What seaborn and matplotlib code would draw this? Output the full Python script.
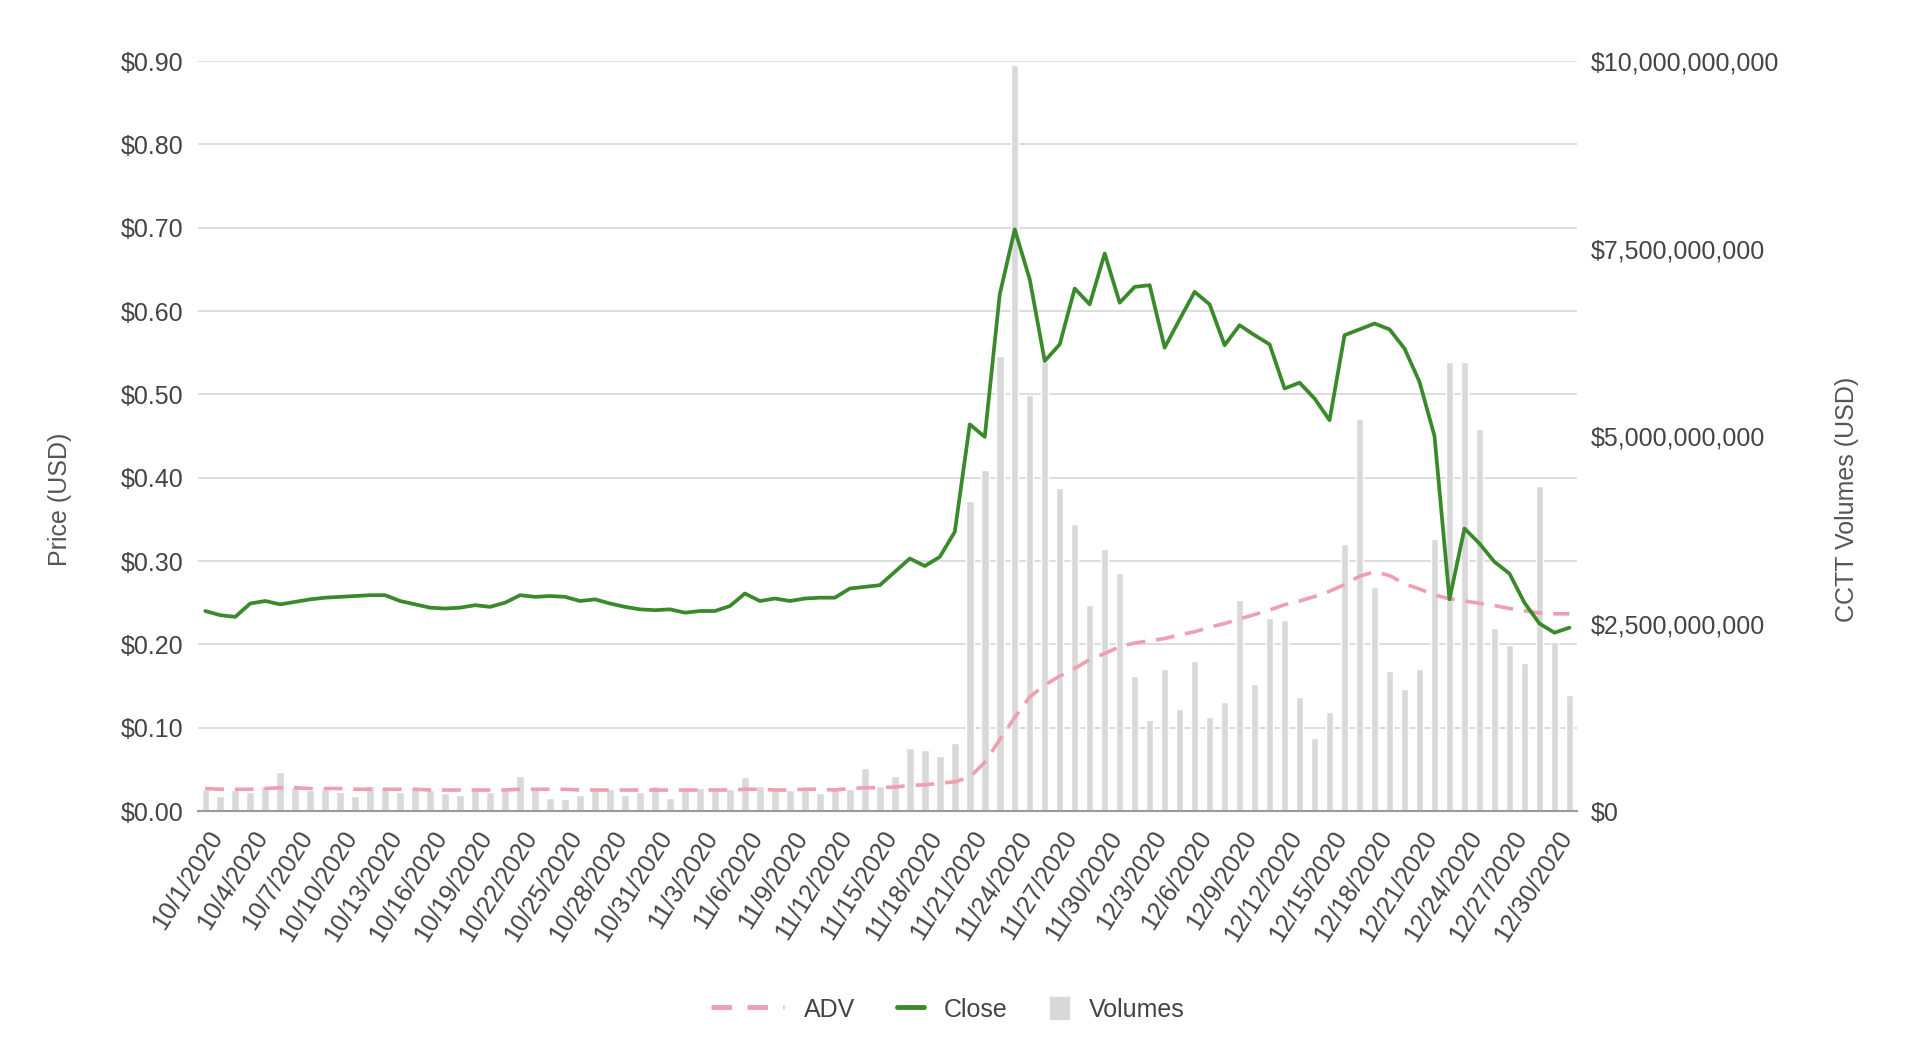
import numpy as np
import pandas as pd
import matplotlib
matplotlib.use("Agg")
import matplotlib.pyplot as plt
import seaborn as sns
from matplotlib.ticker import FixedLocator, FuncFormatter
from matplotlib.lines import Line2D
from matplotlib.patches import Patch
from matplotlib.transforms import ScaledTranslation

# Data, 10/1/2020 - 12/31/2020
dates = pd.date_range("2020-10-01", "2020-12-31", freq="D")

close = [
    0.240, 0.235, 0.233, 0.249, 0.252, 0.248, 0.251, 0.254, 0.256, 0.257,
    0.258, 0.259, 0.259, 0.252, 0.248, 0.244, 0.243, 0.244, 0.247, 0.245,
    0.250, 0.259, 0.257, 0.258, 0.257, 0.252, 0.254, 0.249, 0.245, 0.242,
    0.241, 0.242, 0.238, 0.240, 0.240, 0.246, 0.261, 0.252, 0.255, 0.252,
    0.255, 0.256, 0.256, 0.267, 0.269, 0.271, 0.287, 0.303, 0.294, 0.305,
    0.335, 0.464, 0.449, 0.620, 0.698, 0.638, 0.540, 0.560, 0.627, 0.608,
    0.669, 0.610, 0.629, 0.631, 0.556, 0.590, 0.623, 0.608, 0.559, 0.583,
    0.571, 0.560, 0.507, 0.514, 0.495, 0.469, 0.571, 0.578, 0.585, 0.578,
    0.555, 0.515, 0.450, 0.254, 0.339, 0.321, 0.299, 0.285, 0.250, 0.225,
    0.214, 0.220,
]

# billions of USD
volumes_bn = [
    0.30, 0.20, 0.28, 0.25, 0.33, 0.52, 0.32, 0.28, 0.30, 0.26,
    0.20, 0.33, 0.30, 0.25, 0.30, 0.28, 0.24, 0.22, 0.28, 0.25,
    0.29, 0.47, 0.29, 0.18, 0.16, 0.22, 0.29, 0.29, 0.22, 0.25,
    0.34, 0.18, 0.29, 0.31, 0.31, 0.29, 0.45, 0.34, 0.31, 0.28,
    0.31, 0.24, 0.29, 0.30, 0.58, 0.33, 0.47, 0.84, 0.81, 0.74,
    0.91, 4.14, 4.55, 6.07, 9.95, 5.55, 5.99, 4.31, 3.83, 2.75,
    3.50, 3.17, 1.80, 1.22, 1.90, 1.36, 2.00, 1.26, 1.46, 2.82,
    1.70, 2.58, 2.55, 1.52, 0.97, 1.32, 3.56, 5.23, 2.99, 1.87,
    1.63, 1.90, 3.63, 5.99, 5.99, 5.09, 2.44, 2.21, 1.97, 4.34,
    2.26, 1.55,
]

adv_bn = [
    0.30, 0.29, 0.29, 0.29, 0.30, 0.31, 0.31, 0.30, 0.30, 0.30,
    0.29, 0.29, 0.29, 0.29, 0.29, 0.28, 0.28, 0.28, 0.28, 0.28,
    0.28, 0.29, 0.29, 0.29, 0.29, 0.28, 0.28, 0.28, 0.28, 0.28,
    0.28, 0.28, 0.28, 0.28, 0.28, 0.28, 0.29, 0.29, 0.28, 0.28,
    0.29, 0.29, 0.28, 0.30, 0.31, 0.31, 0.32, 0.34, 0.35, 0.37,
    0.39, 0.45, 0.65, 0.95, 1.25, 1.52, 1.68, 1.80, 1.90, 2.02,
    2.10, 2.19, 2.24, 2.27, 2.30, 2.35, 2.39, 2.45, 2.50, 2.56,
    2.62, 2.68, 2.75, 2.80, 2.86, 2.93, 3.02, 3.13, 3.19, 3.14,
    3.03, 2.96, 2.88, 2.83, 2.80, 2.77, 2.74, 2.70, 2.67, 2.64,
    2.63, 2.63,
]

price_ticks = [0.0, 0.1, 0.2, 0.3, 0.4, 0.5, 0.6, 0.7, 0.8, 0.9]
volume_ticks = [0, 2.5e9, 5e9, 7.5e9, 10e9]

df = pd.DataFrame({
    "day": np.arange(len(dates)),
    "close": close,
    "volume": np.array(volumes_bn) * 1e9,
    "adv": np.array(adv_bn) * 1e9,
})

GREEN = "#3a8a2c"
PINK = "#ef9fb0"
BAR = "#d9d9d9"
GRID = "#dadada"
TXT = "#444444"
FS = 18

sns.set_theme(style="white")
plt.rcParams["font.family"] = ["Liberation Sans", "DejaVu Sans"]

fig = plt.figure(figsize=(19.2, 10.47), dpi=100)
ax = fig.add_axes([0.103, 0.2254, 0.7183, 0.7163])   # volume axis (right)
ax_p = ax.twinx()                                      # price axis (left)

sns.barplot(data=df, x="day", y="volume", ax=ax, color=BAR, width=0.5,
            saturation=1, errorbar=None)
sns.lineplot(data=df, x="day", y="adv", ax=ax, color=PINK, linewidth=2.6,
             linestyle=(0, (5.2, 3)))
sns.lineplot(data=df, x="day", y="close", ax=ax_p, color=GREEN, linewidth=2.7)

ax.set_xlim(-0.5, len(dates) - 0.5)
ax.set_ylim(0, 10e9)
ax_p.set_ylim(0, 0.9)

# volume axis on the right
ax.yaxis.tick_right()
ax.yaxis.set_label_position("right")
ax.yaxis.set_major_locator(FixedLocator(volume_ticks))
ax.yaxis.set_major_formatter(FuncFormatter(lambda v, _: f"${v:,.0f}"))
# gridlines follow the price ticks, drawn under the bars
ax.yaxis.remove_overlapping_locs = False
ax.set_yticks([p / 0.9 * 10e9 for p in price_ticks], minor=True)
ax.grid(False)
ax.grid(axis="y", which="minor", color=GRID, linewidth=1.3)
ax.set_axisbelow(True)

ax_p.yaxis.tick_left()
ax_p.yaxis.set_label_position("left")
ax_p.yaxis.set_major_locator(FixedLocator(price_ticks))
ax_p.yaxis.set_major_formatter(FuncFormatter(lambda v, _: f"${v:.2f}"))
ax_p.grid(False)

for a in (ax, ax_p):
    a.tick_params(which="both", length=0, labelsize=FS, labelcolor=TXT)
    for s in a.spines.values():
        s.set_visible(False)
ax.tick_params(axis="x", pad=13)
ax.tick_params(axis="y", pad=10)
ax_p.tick_params(axis="y", pad=10)
ax.spines["bottom"].set_visible(True)
ax.spines["bottom"].set_color("#9a9a9a")
ax.spines["bottom"].set_linewidth(1.5)

tick_idx = list(range(0, len(dates), 3))
ax.set_xticks(tick_idx)
ax.set_xticklabels([f"{dates[i].month}/{dates[i].day}/{dates[i].year}" for i in tick_idx],
                   rotation=58, ha="right", va="center", rotation_mode="anchor")
# labels end a little right of their bar, as in the original
shift = ScaledTranslation(0.12, -0.04, fig.dpi_scale_trans)
for lab in ax.get_xticklabels():
    lab.set_transform(lab.get_transform() + shift)

ax.set_xlabel("")
ax.set_ylabel("CCTT Volumes (USD)", fontsize=FS, color="#555555")
ax_p.set_xlabel("")
ax_p.set_ylabel("Price (USD)", fontsize=FS, color="#555555")
ax.yaxis.set_label_coords(1.187, 0.415)
ax_p.yaxis.set_label_coords(-0.091, 0.415)

# legend: three pieces so each key gets its own length
leg_items = [
    (Line2D([], [], color=PINK, linewidth=3.5, linestyle=(0, (4.2, 3.2))), "ADV", 2.9, 0.408),
    (Line2D([], [], color=GREEN, linewidth=3.5, solid_capstyle="round"), "Close", 1.1, 0.496),
    (Patch(facecolor=BAR, edgecolor=BAR), "Volumes", 0.75, 0.582),
]
for h, lab, hl, xc in leg_items:
    leg = fig.legend([h], [lab], loc="center", bbox_to_anchor=(xc, 0.036),
                     frameon=False, fontsize=FS, handlelength=hl,
                     handleheight=1.0, handletextpad=0.8)
    for t in leg.get_texts():
        t.set_color(TXT)

fig.savefig("out.png", dpi=100, facecolor="white")
